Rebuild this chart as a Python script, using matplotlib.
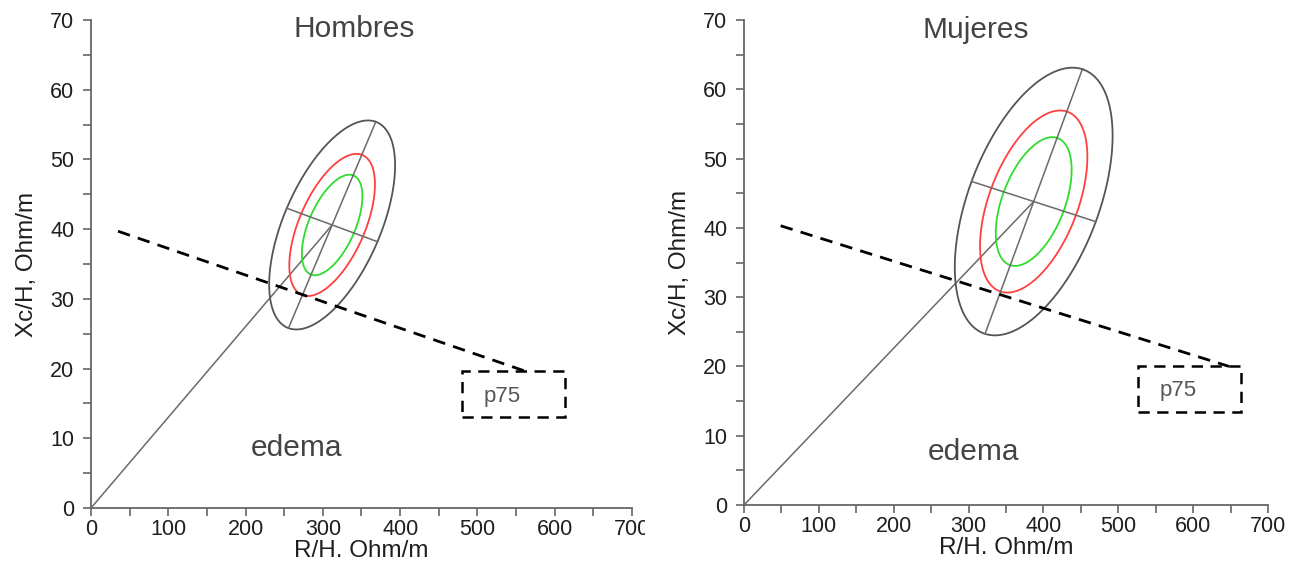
import numpy as np
import matplotlib
matplotlib.use("Agg")
import matplotlib.pyplot as plt
from matplotlib.patches import Rectangle
from matplotlib.ticker import MultipleLocator
from matplotlib.transforms import Bbox, TransformedBbox

plt.rcParams['font.family'] = ['Liberation Sans', 'DejaVu Sans']

# ---- data -------------------------------------------------------------
panel_titles = ["Hombres", "Mujeres"]
# mean vector (R/H, Xc/H) of each reference group, Ohm/m
centers = [(312.0, 40.6), (387.0, 43.8)]
# end points of the two conjugate semi-axes of the 95 % ellipse
major_tips = [(368.5, 55.4), (452.0, 62.9)]
minor_tips = [(253.3, 43.0), (304.0, 46.7)]
# tolerance ellipses drawn for every group
tolerance_levels = [0.50, 0.75, 0.95]
tolerance_colors = ["#2fdc2f", "#ff4040", "#555555"]
# dashed p75 boundary and its label box
p75_start = [(35.0, 39.7), (49.0, 40.3)]
p75_end = [(560.0, 19.7), (648.0, 20.0)]
p75_box = [(480.0, 13.0, 613.0, 19.7), (526.0, 13.4, 664.0, 20.0)]
p75_label_pos = [(532.0, 16.0), (580.0, 16.5)]
edema_label_pos = [(266.0, 8.6), (306.0, 7.6)]
title_pos = [(340.0, 68.7), (310.0, 68.5)]

x_ticks = [0, 100, 200, 300, 400, 500, 600, 700]
y_ticks = [0, 10, 20, 30, 40, 50, 60, 70]

# ---- figure -----------------------------------------------------------
fig = plt.figure(figsize=(12.99, 5.69), dpi=100)
axes_boxes = [
    [91 / 1299, 61 / 569, 541 / 1299, 488 / 569],
    [744 / 1299, 64 / 569, 524 / 1299, 485 / 569],
]
# the left panel is cut just short of the right panel's y labels
left_panel_clip = TransformedBbox(Bbox([[0, 0], [645 / 1299, 1]]),
                                  fig.transFigure)

axis_grey = "#666666"
text_dark = "#1f1f1f"
line_grey = "#6a6a6a"


def radius(p):
    # Mahalanobis radius enclosing fraction p of a bivariate normal
    return np.sqrt(-2.0 * np.log(1.0 - p))


for i, box in enumerate(axes_boxes):
    ax = fig.add_axes(box)
    ax.set_xlim(x_ticks[0], x_ticks[-1])
    ax.set_ylim(y_ticks[0], y_ticks[-1])

    for side in ("top", "right"):
        ax.spines[side].set_visible(False)
    for side in ("left", "bottom"):
        ax.spines[side].set_color(axis_grey)
        ax.spines[side].set_linewidth(1.3)

    ax.set_xticks(x_ticks)
    ax.set_yticks(y_ticks)
    ax.xaxis.set_minor_locator(MultipleLocator(50))
    ax.yaxis.set_minor_locator(MultipleLocator(5))
    ax.tick_params(which="both", direction="out", length=6, width=1.2,
                   color=axis_grey)
    ax.tick_params(which="major", labelsize=15.5, labelcolor=text_dark)
    ax.tick_params(axis="x", which="major", pad=2)
    ax.tick_params(axis="y", which="major", pad=6)

    ax.set_xlabel("R/H. Ohm/m", fontsize=17.5, color=text_dark, labelpad=0)
    ax.set_ylabel("Xc/H, Ohm/m", fontsize=17.5, color=text_dark, labelpad=9)

    if i == 0:
        for lbl in ax.get_xticklabels():
            lbl.set_clip_on(True)
            lbl.set_clip_box(left_panel_clip)

    c = np.array(centers[i])
    u = np.array(major_tips[i]) - c
    v = np.array(minor_tips[i]) - c

    # line from the origin to the mean vector
    ax.plot([0, c[0]], [0, c[1]], color=line_grey, lw=1.1)

    # tolerance ellipses
    t = np.linspace(0, 2 * np.pi, 400)
    r95 = radius(tolerance_levels[-1])
    for p, col in zip(tolerance_levels, tolerance_colors):
        s = radius(p) / r95
        pts = c[:, None] + s * (np.outer(u, np.cos(t)) + np.outer(v, np.sin(t)))
        ax.plot(pts[0], pts[1], color=col, lw=1.3)

    # semi-axes of the 95 % ellipse
    ax.plot([c[0] - u[0], c[0] + u[0]], [c[1] - u[1], c[1] + u[1]],
            color=line_grey, lw=1.1)
    ax.plot([c[0] - v[0], c[0] + v[0]], [c[1] - v[1], c[1] + v[1]],
            color=line_grey, lw=1.1)

    # p75 boundary
    ax.plot([p75_start[i][0], p75_end[i][0]], [p75_start[i][1], p75_end[i][1]],
            color="black", lw=2.0, linestyle=(0, (4.5, 3)))
    x0, y0, x1, y1 = p75_box[i]
    ax.add_patch(Rectangle((x0, y0), x1 - x0, y1 - y0, fill=False,
                           edgecolor="black", lw=1.8,
                           linestyle=(0, (4.5, 3))))
    ax.text(*p75_label_pos[i], "p75", fontsize=16, color="#555555",
            ha="center", va="center")

    ax.text(*edema_label_pos[i], "edema", fontsize=21.5, color="#444444",
            ha="center", va="center")
    ax.text(*title_pos[i], panel_titles[i], fontsize=21.5, color="#444444",
            ha="center", va="center")

fig.savefig("out.png", dpi=100)
